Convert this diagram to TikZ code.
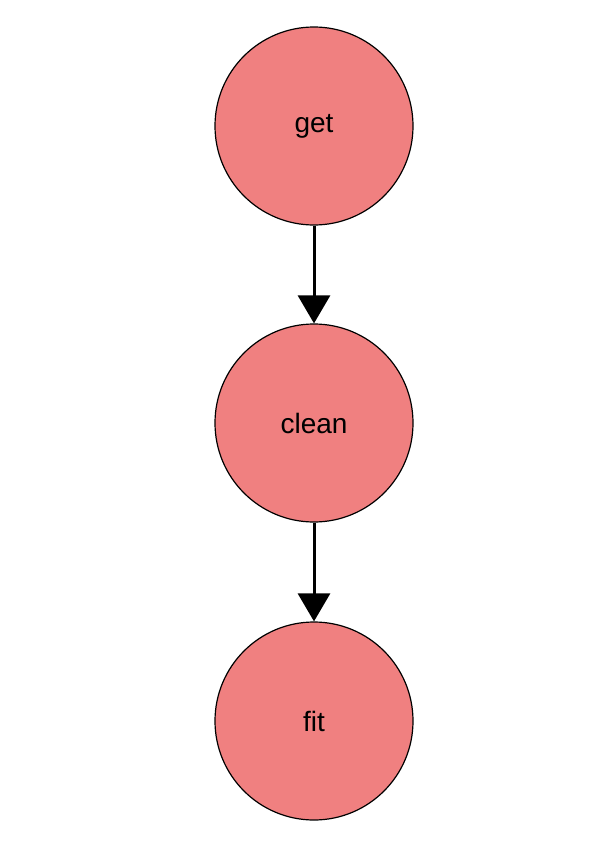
\documentclass[tikz,border=0pt]{standalone}
\usepackage{fontspec}
\setmainfont{Liberation Sans}
\usetikzlibrary{arrows.meta}
\definecolor{nodefill}{RGB}{240,128,128}
\begin{document}
\begin{tikzpicture}[x=1pt,y=-1pt,
  stage/.style={circle,draw=black,line width=1.2pt,fill=nodefill,minimum size=198pt,inner sep=0pt,font=\fontsize{28}{32}\selectfont},
  flow/.style={line width=3pt,-{Triangle[length=28pt,width=32pt]}}]
\useasboundingbox (0,0) rectangle (611,862);
\node[stage] (get) at (314,126) {get};
\node[stage] (clean) at (314,423) {clean};
\node[stage] (fit) at (314,721) {fit};
\draw[flow] (get) -- (clean);
\draw[flow] (clean) -- (fit);
\end{tikzpicture}
\end{document}
